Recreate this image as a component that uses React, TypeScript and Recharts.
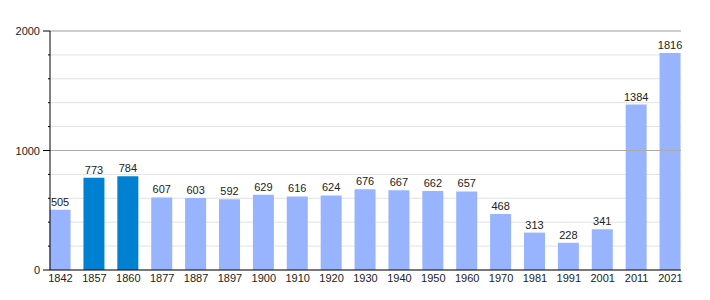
import React from 'react';
import { BarChart, Bar, XAxis, YAxis, CartesianGrid, ReferenceLine, LabelList, Cell } from 'recharts';

const years = ['1842', '1857', '1860', '1877', '1887', '1897', '1900', '1910', '1920', '1930', '1940', '1950', '1960', '1970', '1981', '1991', '2001', '2011', '2021'];
const population = [505, 773, 784, 607, 603, 592, 629, 616, 624, 676, 667, 662, 657, 468, 313, 228, 341, 1384, 1816];
const highlighted = ['1857', '1860'];
const yTicks = [0, 200, 400, 600, 800, 1000, 1200, 1400, 1600, 1800, 2000];
const labelledTicks = [0, 1000, 2000];

const data = years.map((year, i) => ({ idx: i, year, value: population[i] }));

const font = '"Liberation Sans", Arial, sans-serif';

const YTick = (props: any) => {
  const { x, y, payload } = props;
  const major = labelledTicks.includes(payload.value);
  return (
    <g>
      <line x1={x - (major ? 7 : 2)} x2={x} y1={y} y2={y} stroke="#000" strokeWidth={1} />
      {major && (
        <text x={x - 10} y={y} dy={4} textAnchor="end" fontSize={11} fill="#222" fontFamily={font}>
          {payload.value}
        </text>
      )}
    </g>
  );
};

export default function App() {
  return (
    <div style={{ position: 'absolute', left: 0, top: 0, width: 710, height: 300, background: '#fff' }}>
      <BarChart width={710} height={300} data={data} margin={{ top: 31, right: 29, bottom: 0, left: 0 }}>
        <CartesianGrid vertical={false} stroke="#e2e2e2" />
        <ReferenceLine y={1000} stroke="#aaaaaa" />
        <ReferenceLine y={2000} stroke="#aaaaaa" />
        <XAxis
          dataKey="idx"
          type="number"
          domain={[-0.31, 18.31]}
          ticks={data.map(d => d.idx)}
          tickFormatter={(v: number) => years[v]}
          interval={0}
          height={30}
          tickLine={false}
          tickSize={0}
          tickMargin={4}
          stroke="#000"
          tick={{ fontSize: 11, fill: '#222', fontFamily: font }}
        />
        <YAxis
          domain={[0, 2000]}
          ticks={yTicks}
          width={50}
          tickSize={0}
          tickMargin={0}
          tickLine={false}
          stroke="#000"
          interval={0}
          tick={<YTick />}
        />
        <Bar dataKey="value" barSize={21} isAnimationActive={false}>
          {data.map(d => (
            <Cell key={d.year} fill={highlighted.includes(d.year) ? '#0080d0' : '#99b4ff'} />
          ))}
          <LabelList dataKey="value" position="top" offset={4} fontSize={11} fill="#222" fontFamily={font} />
        </Bar>
      </BarChart>
    </div>
  );
}
